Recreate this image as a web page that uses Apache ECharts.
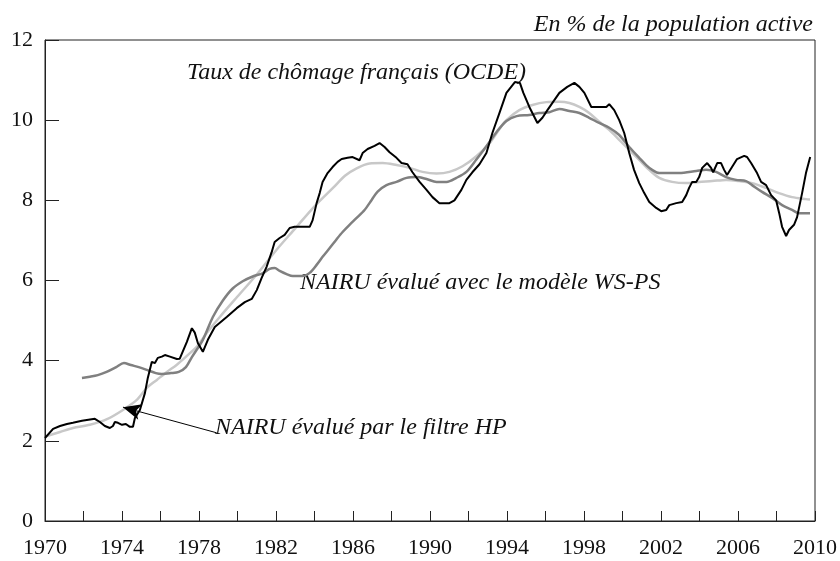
<!DOCTYPE html>
<html>
<head>
<meta charset="utf-8">
<script src="https://cdn.jsdelivr.net/npm/echarts@6/dist/echarts.min.js"></script>
<style>
  html, body { margin: 0; padding: 0; background: #fff; }
  #chart { width: 840px; height: 561px; }
</style>
</head>
<body>
<div id="chart"></div>
<script>
// Taux de chômage français (OCDE), [année, %]
const chomageOCDE = [
  [1970.0, 2.07], [1970.42, 2.3], [1970.78, 2.37], [1971.14, 2.42], [1971.45, 2.45], [1971.92, 2.5],
  [1972.59, 2.55], [1972.85, 2.47], [1973.11, 2.37], [1973.37, 2.32], [1973.53, 2.37], [1973.63, 2.47],
  [1973.79, 2.45], [1974.0, 2.4], [1974.2, 2.42], [1974.41, 2.35], [1974.57, 2.35], [1974.67, 2.57],
  [1974.93, 2.77], [1975.19, 3.19], [1975.34, 3.57], [1975.55, 3.97], [1975.71, 3.94], [1975.86, 4.07],
  [1976.07, 4.1], [1976.23, 4.14], [1976.49, 4.1], [1976.85, 4.04], [1977.0, 4.05], [1977.37, 4.47],
  [1977.63, 4.81], [1977.78, 4.7], [1977.94, 4.44], [1978.2, 4.22], [1978.46, 4.52], [1978.82, 4.84],
  [1979.44, 5.09], [1979.96, 5.31], [1980.38, 5.46], [1980.74, 5.54], [1981.0, 5.76], [1981.25, 6.06],
  [1981.51, 6.34], [1981.77, 6.7], [1981.93, 6.96], [1982.19, 7.06], [1982.45, 7.14], [1982.71, 7.31],
  [1982.97, 7.34], [1983.75, 7.34], [1983.9, 7.5], [1984.11, 7.93], [1984.27, 8.18], [1984.42, 8.46],
  [1984.68, 8.68], [1984.94, 8.83], [1985.2, 8.96], [1985.41, 9.03], [1985.72, 9.06], [1985.98, 9.08],
  [1986.34, 9.0], [1986.5, 9.18], [1986.76, 9.28], [1987.12, 9.36], [1987.38, 9.43], [1987.64, 9.33],
  [1987.9, 9.2], [1988.26, 9.06], [1988.52, 8.93], [1988.83, 8.9], [1989.09, 8.7], [1989.46, 8.46],
  [1989.82, 8.26], [1990.13, 8.08], [1990.49, 7.93], [1991.01, 7.93], [1991.27, 8.0], [1991.63, 8.26],
  [1991.89, 8.51], [1992.2, 8.7], [1992.57, 8.9], [1992.93, 9.18], [1993.24, 9.68], [1993.61, 10.18],
  [1993.97, 10.68], [1994.41, 10.95], [1994.67, 10.93], [1994.85, 10.68], [1995.16, 10.33], [1995.58, 9.93],
  [1995.84, 10.06], [1996.1, 10.25], [1996.36, 10.43], [1996.72, 10.68], [1997.13, 10.83], [1997.5, 10.93],
  [1997.76, 10.83], [1998.02, 10.68], [1998.38, 10.33], [1998.79, 10.33], [1999.16, 10.33], [1999.31, 10.4],
  [1999.57, 10.25], [1999.83, 10.0], [2000.09, 9.68], [2000.35, 9.18], [2000.6, 8.76], [2000.87, 8.43],
  [2001.13, 8.18], [2001.39, 7.96], [2001.75, 7.81], [2002.01, 7.73], [2002.27, 7.76], [2002.43, 7.88],
  [2002.79, 7.93], [2003.1, 7.96], [2003.31, 8.13], [2003.46, 8.31], [2003.62, 8.46], [2003.83, 8.46],
  [2003.98, 8.58], [2004.14, 8.81], [2004.4, 8.93], [2004.6, 8.81], [2004.71, 8.7], [2004.92, 8.93],
  [2005.12, 8.93], [2005.28, 8.76], [2005.43, 8.63], [2005.69, 8.83], [2005.95, 9.03], [2006.32, 9.11],
  [2006.47, 9.08], [2006.68, 8.93], [2006.99, 8.68], [2007.2, 8.46], [2007.46, 8.38], [2007.72, 8.13],
  [2007.98, 8.0], [2008.14, 7.68], [2008.29, 7.34], [2008.5, 7.11], [2008.65, 7.26], [2008.91, 7.39],
  [2009.07, 7.58], [2009.33, 8.18], [2009.53, 8.68], [2009.75, 9.08]
]

// NAIRU évalué avec le modèle WS-PS
const nairuWSPS = [
  [1971.92, 3.57], [1972.33, 3.6], [1972.74, 3.64], [1973.2, 3.72], [1973.7, 3.84], [1974.1, 3.94],
  [1974.46, 3.89], [1974.87, 3.84], [1975.29, 3.77], [1975.76, 3.69], [1976.07, 3.67], [1976.54, 3.69],
  [1976.95, 3.72], [1977.32, 3.84], [1977.63, 4.09], [1978.2, 4.52], [1978.72, 5.09], [1979.24, 5.5],
  [1979.75, 5.8], [1980.27, 5.98], [1980.79, 6.1], [1981.3, 6.18], [1981.67, 6.29], [1981.93, 6.31],
  [1982.19, 6.24], [1982.55, 6.16], [1982.87, 6.11], [1983.39, 6.11], [1983.75, 6.19], [1984.11, 6.39],
  [1984.42, 6.59], [1984.79, 6.81], [1985.15, 7.03], [1985.46, 7.21], [1985.82, 7.39], [1986.19, 7.56],
  [1986.6, 7.76], [1986.97, 8.01], [1987.28, 8.22], [1987.74, 8.38], [1988.26, 8.46], [1988.78, 8.56],
  [1989.3, 8.58], [1989.82, 8.53], [1990.34, 8.46], [1990.86, 8.46], [1991.37, 8.56], [1991.89, 8.71],
  [1992.41, 9.02], [1992.93, 9.35], [1993.45, 9.7], [1993.97, 9.98], [1994.5, 10.1], [1995.16, 10.13],
  [1995.68, 10.18], [1996.2, 10.2], [1996.72, 10.28], [1997.24, 10.23], [1997.76, 10.18], [1998.27, 10.06],
  [1998.79, 9.93], [1999.31, 9.81], [1999.83, 9.63], [2000.35, 9.33], [2000.87, 9.06], [2001.23, 8.88],
  [2001.54, 8.76], [2001.91, 8.68], [2002.94, 8.68], [2003.83, 8.73], [2004.34, 8.76], [2004.86, 8.71],
  [2005.38, 8.58], [2005.9, 8.51], [2006.42, 8.48], [2006.73, 8.38], [2007.25, 8.21], [2007.77, 8.06],
  [2008.29, 7.88], [2008.81, 7.76], [2009.17, 7.68], [2009.74, 7.68]
]

// NAIRU évalué par le filtre HP
const nairuHP = [
  [1970.1, 2.12], [1970.78, 2.22], [1971.45, 2.32], [1972.33, 2.4], [1973.22, 2.54], [1974.05, 2.77],
  [1974.77, 3.02], [1975.29, 3.32], [1975.81, 3.52], [1976.33, 3.72], [1976.85, 3.9], [1977.37, 4.12],
  [1977.89, 4.35], [1978.4, 4.69], [1979.08, 5.09], [1980.0, 5.6], [1981.0, 6.15], [1982.0, 6.75],
  [1983.0, 7.3], [1984.0, 7.85], [1985.0, 8.33], [1985.6, 8.62], [1986.19, 8.8], [1986.86, 8.92],
  [1987.54, 8.93], [1988.26, 8.88], [1988.94, 8.81], [1989.61, 8.71], [1990.34, 8.67], [1991.01, 8.71],
  [1991.69, 8.85], [1992.41, 9.1], [1993.09, 9.42], [1993.61, 9.78], [1993.97, 10.0], [1994.64, 10.25],
  [1995.32, 10.38], [1996.04, 10.45], [1996.72, 10.46], [1997.24, 10.43], [1997.76, 10.33], [1998.27, 10.18],
  [1998.79, 9.96], [1999.31, 9.76], [1999.83, 9.51], [2000.35, 9.26], [2000.87, 9.01], [2001.39, 8.76],
  [2001.91, 8.56], [2002.58, 8.46], [2003.31, 8.43], [2003.98, 8.46], [2004.66, 8.48], [2005.38, 8.51],
  [2006.06, 8.48], [2006.73, 8.43], [2007.46, 8.31], [2008.13, 8.18], [2008.81, 8.08], [2009.53, 8.03],
  [2009.74, 8.02]
]

// flèche vers la courbe HP
const flecheHP = [[1978.92, 2.2], [1974.05, 2.84]]

const serif = "'Liberation Serif', 'DejaVu Serif', serif"
const italic = 'italic 24px ' + serif

const chart = echarts.init(document.getElementById('chart'))
chart.setOption({
  animation: false,
  grid: {
    left: 45,
    right: 24,
    top: 40,
    bottom: 40,
    show: true,
    borderColor: '#222',
    borderWidth: 1
  },
  xAxis: {
    type: 'value',
    min: 1970,
    max: 2010,
    interval: 2,
    axisLine: { lineStyle: { color: '#222', width: 1 } },
    axisTick: { inside: true, length: 10, lineStyle: { color: '#222' } },
    splitLine: { show: false },
    axisLabel: {
      margin: 16,
      color: '#111',
      fontFamily: serif,
      fontSize: 22,
      formatter: v => ((v - 1970) % 4 === 0 ? String(v) : '')
    }
  },
  yAxis: {
    type: 'value',
    min: 0,
    max: 12,
    interval: 2,
    axisLine: { show: true, lineStyle: { color: '#222', width: 1 } },
    axisTick: { show: true, inside: true, length: 14, lineStyle: { color: '#222' } },
    splitLine: { show: false },
    axisLabel: {
      margin: 12,
      color: '#111',
      fontFamily: serif,
      fontSize: 22
    }
  },
  series: [{
    name: 'NAIRU évalué par le filtre HP',
    type: 'line',
    showSymbol: false,
    smooth: 0.3,
    lineStyle: { color: '#c8c8c8', width: 2.5 },
    data: nairuHP,
    markLine: {
      silent: true,
      symbol: ['none', 'arrow'],
      symbolSize: [12, 18],
      label: { show: false },
      lineStyle: { color: '#000', width: 1, type: 'solid' },
      data: [[{ coord: flecheHP[0] }, { coord: flecheHP[1] }]]
    }
  }, {
    name: 'NAIRU évalué avec le modèle WS-PS',
    type: 'line',
    showSymbol: false,
    smooth: 0.3,
    lineStyle: { color: '#808080', width: 2.5 },
    data: nairuWSPS
  }, {
    name: 'Taux de chômage français (OCDE)',
    type: 'line',
    showSymbol: false,
    lineStyle: { color: '#000', width: 2 },
    data: chomageOCDE
  }],
  graphic: [
    { type: 'text', x: 813, y: 25, style: { text: 'En % de la population active', font: italic, fill: '#111', textAlign: 'right', textVerticalAlign: 'middle' } },
    { type: 'text', x: 187, y: 73, style: { text: 'Taux de chômage français (OCDE)', font: italic, fill: '#111', textVerticalAlign: 'middle' } },
    { type: 'text', x: 300, y: 283, style: { text: 'NAIRU évalué avec le modèle WS-PS', font: italic, fill: '#111', textVerticalAlign: 'middle' } },
    { type: 'text', x: 215, y: 428, style: { text: 'NAIRU évalué par le filtre HP', font: italic, fill: '#111', textVerticalAlign: 'middle' } }
  ]
})
</script>
</body>
</html>
